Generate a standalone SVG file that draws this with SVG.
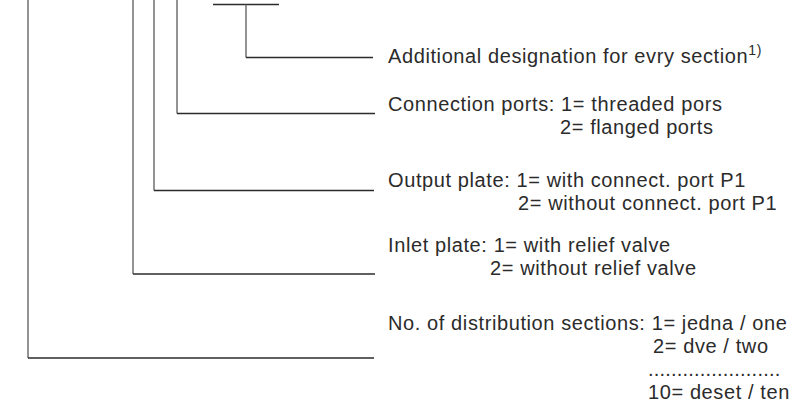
<svg xmlns="http://www.w3.org/2000/svg" width="795" height="405" viewBox="0 0 795 405">
<style>
  text { font-family: "Liberation Sans", Arial, sans-serif; font-size: 20px; fill: #2b2b2b; letter-spacing: 0.6px; }
  text.dots { letter-spacing: 0.2px; }
  .v { stroke: #666; stroke-width: 1.4; fill: none; }
  .h { stroke: #2b2b2b; stroke-width: 1.3; fill: none; }
</style>
<rect width="795" height="405" fill="#fff"/>
<g id="connectors">
  <path class="v" d="M28,0 V358"/>
  <path class="h" d="M28,358 H374"/>
  <path class="v" d="M133,0 V274"/>
  <path class="h" d="M133,274 H375"/>
  <path class="v" d="M154,0 V190.5"/>
  <path class="h" d="M154,190.5 H374"/>
  <path class="v" d="M177,0 V113.5"/>
  <path class="h" d="M177,113.5 H375"/>
  <path class="h" d="M213,4.5 H279"/>
  <path class="v" d="M246,4.5 V57.5"/>
  <path class="h" d="M246,57.5 H373"/>
</g>
<g id="additional">
  <text x="388" y="63">Additional designation for evry section<tspan dy="-8" font-size="14" style="font-size:14px">1)</tspan></text>
</g>
<g id="connection-ports">
  <text x="388" y="111">Connection ports: 1= threaded pors</text>
  <text x="560" y="134">2= flanged ports</text>
</g>
<g id="output-plate">
  <text x="388" y="187">Output plate: 1= with connect. port P1</text>
  <text x="518" y="210">2= without connect. port P1</text>
</g>
<g id="inlet-plate">
  <text x="388" y="252">Inlet plate: 1= with relief valve</text>
  <text x="490" y="275">2= without relief valve</text>
</g>
<g id="sections">
  <text x="388" y="330">No. of distribution sections: 1= jedna / one</text>
  <text x="653" y="353">2= dve / two</text>
  <text class="dots" x="648" y="376">.......................</text>
  <text x="648" y="399">10= deset / ten</text>
</g>
</svg>
